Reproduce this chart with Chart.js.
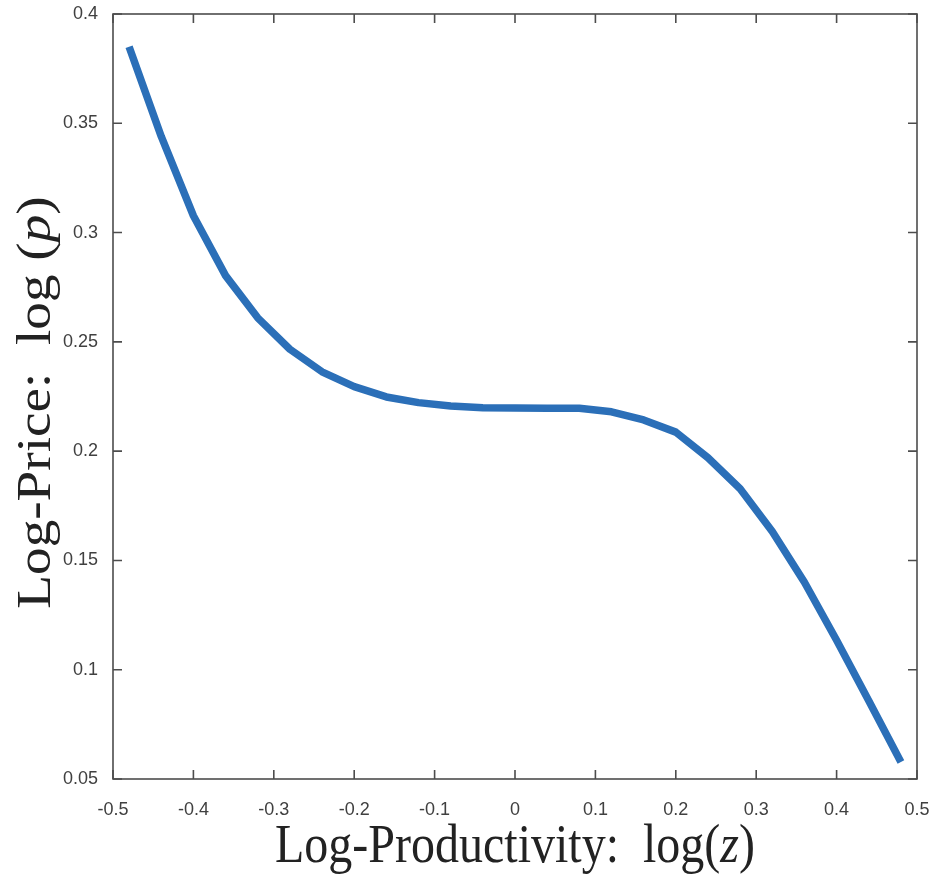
<!DOCTYPE html>
<html>
<head>
<meta charset="utf-8">
<script src="https://cdn.jsdelivr.net/npm/chart.js@4.4.1/dist/chart.umd.min.js"></script>
<style>
  html, body { margin: 0; padding: 0; background: #fff; }
  #wrap { width: 935px; height: 878px; }
</style>
</head>
<body>
<div id="wrap"><canvas id="priceChart" width="935" height="878"></canvas></div>
<script>
// log-productivity grid and log-price
var logZ = [-0.48, -0.44, -0.40, -0.36, -0.32, -0.28, -0.24, -0.20, -0.16, -0.12, -0.08, -0.04, 0,
            0.04, 0.08, 0.12, 0.16, 0.20, 0.24, 0.28, 0.32, 0.36, 0.40, 0.44, 0.48];
var logP = [0.385, 0.344, 0.3077, 0.2803, 0.261, 0.2466, 0.2363, 0.2295, 0.2248, 0.2222, 0.2207, 0.2199, 0.2197,
            0.2196, 0.2196, 0.2180, 0.2143, 0.2087, 0.1970, 0.1828, 0.1632, 0.1400, 0.1135, 0.0858, 0.0578];
var xTicks = [-0.5, -0.4, -0.3, -0.2, -0.1, 0, 0.1, 0.2, 0.3, 0.4, 0.5];
var yTicks = [0.05, 0.1, 0.15, 0.2, 0.25, 0.3, 0.35, 0.4];

var points = logZ.map(function(z, i) { return { x: z, y: logP[i] }; });

// box around the plot with inward ticks on all four sides, like matlab
var boxPlugin = {
  id: 'box',
  afterDatasetsDraw: function(chart) {
    var c = chart.ctx, a = chart.chartArea;
    var xs = chart.scales.x, ys = chart.scales.y;
    var len = 9;
    c.save();
    c.strokeStyle = '#4d4d4d';
    c.lineWidth = 1.6;
    c.strokeRect(a.left, a.top, a.right - a.left, a.bottom - a.top);
    c.beginPath();
    xTicks.forEach(function(v) {
      var px = xs.getPixelForValue(v);
      c.moveTo(px, a.bottom); c.lineTo(px, a.bottom - len);
      c.moveTo(px, a.top); c.lineTo(px, a.top + len);
    });
    yTicks.forEach(function(v) {
      var py = ys.getPixelForValue(v);
      c.moveTo(a.left, py); c.lineTo(a.left + len, py);
      c.moveTo(a.right, py); c.lineTo(a.right - len, py);
    });
    c.stroke();
    c.restore();
  },
  afterDraw: function(chart) {
    var c = chart.ctx, a = chart.chartArea;
    var serif = '"Liberation Serif", "DejaVu Serif", serif';
    var size = 48;
    // text with an italic variable, centred on 0,0
    function mixed(parts) {
      var total = 0;
      parts.forEach(function(p) {
        c.font = (p[1] ? 'italic ' : '') + size + 'px ' + serif;
        total += c.measureText(p[0]).width;
      });
      var x = -total / 2;
      parts.forEach(function(p) {
        c.font = (p[1] ? 'italic ' : '') + size + 'px ' + serif;
        c.fillText(p[0], x, 0);
        x += c.measureText(p[0]).width;
      });
    }
    c.save();
    c.fillStyle = '#222';
    c.textBaseline = 'alphabetic';
    c.translate((a.left + a.right) / 2, 862);
    c.scale(1, 1.15);
    mixed([['Log-Productivity:  log(', false], ['z', true], [')', false]]);
    c.restore();

    c.save();
    c.fillStyle = '#222';
    c.textBaseline = 'alphabetic';
    c.translate(50, (a.top + a.bottom) / 2 + 6);
    c.rotate(-Math.PI / 2);
    c.scale(1.15, 1);
    mixed([['Log-Price:  log (', false], ['p', true], [')', false]]);
    c.restore();
  }
};

var ctx = document.getElementById('priceChart').getContext('2d');
var priceChart = new Chart(ctx, {
  type: 'line',
  data: {
    datasets: [{
      label: 'log(p)',
      data: points,
      borderColor: '#2b6fb8',
      borderWidth: 7.5,
      borderCapStyle: 'butt',
      borderJoinStyle: 'round',
      pointRadius: 0,
      tension: 0,
      fill: false
    }]
  },
  options: {
    responsive: false,
    animation: false,
    layout: { padding: { top: 14, right: 18, left: 0, bottom: 0 } },
    plugins: { legend: { display: false }, tooltip: { enabled: false } },
    scales: {
      x: {
        type: 'linear',
        min: -0.5,
        max: 0.5,
        afterBuildTicks: function(s) { s.ticks = xTicks.map(function(v) { return { value: v }; }); },
        afterFit: function(s) { s.height = 99; s.paddingLeft = 0; s.paddingRight = 0; },
        grid: { display: false },
        border: { display: false },
        ticks: {
          color: '#404040',
          padding: 12,
          maxRotation: 0,
          font: { family: '"Liberation Sans", Arial, sans-serif', size: 18 },
          callback: function(v) { return String(Math.round(v * 10) / 10); }
        }
      },
      y: {
        type: 'linear',
        min: 0.05,
        max: 0.4,
        afterBuildTicks: function(s) { s.ticks = yTicks.map(function(v) { return { value: v }; }); },
        afterFit: function(s) { s.width = 113; s.paddingTop = 0; s.paddingBottom = 0; },
        grid: { display: false },
        border: { display: false },
        ticks: {
          color: '#404040',
          padding: 7,
          font: { family: '"Liberation Sans", Arial, sans-serif', size: 18 },
          callback: function(v) { return String(Math.round(v * 100) / 100); }
        }
      }
    }
  },
  plugins: [boxPlugin]
});
</script>
</body>
</html>
